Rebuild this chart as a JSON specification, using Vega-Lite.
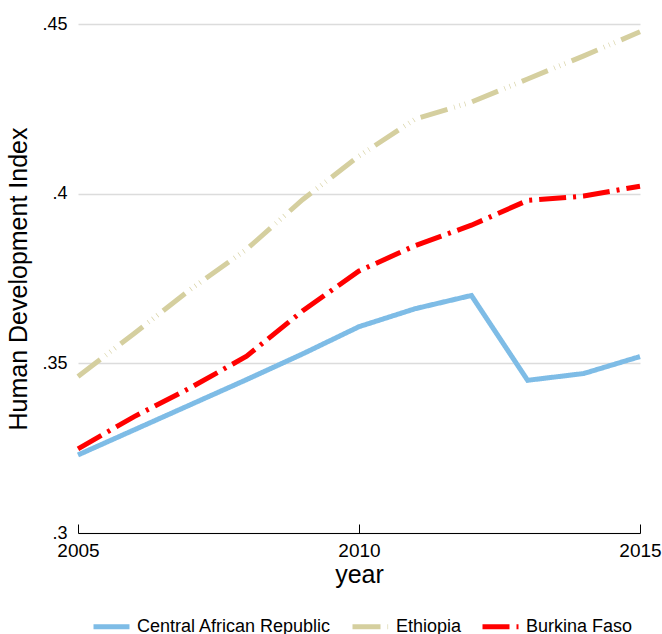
{
  "$schema": "https://vega.github.io/schema/vega-lite/v6.json",
  "autosize": {"type": "none"},
  "width": 562,
  "height": 509,
  "padding": {"left": 78, "top": 24, "right": 22, "bottom": 101},
  "background": "white",
  "config": {
    "view": {"stroke": null},
    "font": "Liberation Sans"
  },
  "data": {
    "values": [
      {"year": 2005, "country": "Central African Republic", "hdi": 0.323},
      {"year": 2006, "country": "Central African Republic", "hdi": 0.3304},
      {"year": 2007, "country": "Central African Republic", "hdi": 0.3378},
      {"year": 2008, "country": "Central African Republic", "hdi": 0.3452},
      {"year": 2009, "country": "Central African Republic", "hdi": 0.3528},
      {"year": 2010, "country": "Central African Republic", "hdi": 0.3608},
      {"year": 2011, "country": "Central African Republic", "hdi": 0.3661},
      {"year": 2012, "country": "Central African Republic", "hdi": 0.370},
      {"year": 2013, "country": "Central African Republic", "hdi": 0.345},
      {"year": 2014, "country": "Central African Republic", "hdi": 0.347},
      {"year": 2015, "country": "Central African Republic", "hdi": 0.352},
      {"year": 2005, "country": "Ethiopia", "hdi": 0.3461},
      {"year": 2006, "country": "Ethiopia", "hdi": 0.3588},
      {"year": 2007, "country": "Ethiopia", "hdi": 0.3718},
      {"year": 2008, "country": "Ethiopia", "hdi": 0.3836},
      {"year": 2009, "country": "Ethiopia", "hdi": 0.3983},
      {"year": 2010, "country": "Ethiopia", "hdi": 0.4111},
      {"year": 2011, "country": "Ethiopia", "hdi": 0.422},
      {"year": 2012, "country": "Ethiopia", "hdi": 0.427},
      {"year": 2013, "country": "Ethiopia", "hdi": 0.4338},
      {"year": 2014, "country": "Ethiopia", "hdi": 0.4406},
      {"year": 2015, "country": "Ethiopia", "hdi": 0.4477},
      {"year": 2005, "country": "Burkina Faso", "hdi": 0.3248},
      {"year": 2006, "country": "Burkina Faso", "hdi": 0.3343},
      {"year": 2007, "country": "Burkina Faso", "hdi": 0.3428},
      {"year": 2008, "country": "Burkina Faso", "hdi": 0.3521},
      {"year": 2009, "country": "Burkina Faso", "hdi": 0.3655},
      {"year": 2010, "country": "Burkina Faso", "hdi": 0.3772},
      {"year": 2011, "country": "Burkina Faso", "hdi": 0.3847},
      {"year": 2012, "country": "Burkina Faso", "hdi": 0.3907},
      {"year": 2013, "country": "Burkina Faso", "hdi": 0.398},
      {"year": 2014, "country": "Burkina Faso", "hdi": 0.3993},
      {"year": 2015, "country": "Burkina Faso", "hdi": 0.4022}
    ]
  },
  "mark": {"type": "line", "strokeWidth": 5, "strokeCap": "butt", "strokeJoin": "miter"},
  "encoding": {
    "x": {
      "field": "year",
      "type": "quantitative",
      "scale": {"domain": [2005, 2015], "nice": false, "zero": false},
      "axis": {
        "title": "year",
        "values": [2005, 2010, 2015],
        "format": "d",
        "grid": false,
        "labelFlush": false,
        "labelOverlap": false,
        "domainColor": "black",
        "domainWidth": 1,
        "tickColor": "black",
        "tickSize": -9,
        "tickWidth": 1,
        "labelFontSize": 19,
        "labelColor": "black",
        "labelPadding": 17,
        "titleFontSize": 25,
        "titleFontWeight": "normal",
        "titleColor": "black",
        "titlePadding": 2
      }
    },
    "y": {
      "field": "hdi",
      "type": "quantitative",
      "scale": {"domain": [0.3, 0.45], "nice": false, "zero": false},
      "axis": {
        "title": "Human Development Index",
        "values": [0.3, 0.35, 0.4, 0.45],
        "labelExpr": "replace(format(datum.value, '.2~f'), /^0/, '')",
        "labelFlush": false,
        "domain": false,
        "ticks": false,
        "grid": true,
        "gridColor": "#dcdcdc",
        "gridWidth": 1.5,
        "labelFontSize": 18,
        "labelColor": "black",
        "labelPadding": 11,
        "titleFontSize": 25,
        "titleFontWeight": "normal",
        "titleColor": "black",
        "titlePadding": 10
      }
    },
    "color": {
      "field": "country",
      "type": "nominal",
      "scale": {
        "domain": ["Central African Republic", "Ethiopia", "Burkina Faso"],
        "range": ["#7EBCE6", "#D5CF9F", "#FF0000"]
      },
      "legend": {
        "title": null,
        "orient": "none",
        "direction": "horizontal",
        "legendX": 13,
        "legendY": 582,
        "symbolType": "stroke",
        "symbolStrokeWidth": 5,
        "symbolSize": 1296,
        "labelFontSize": 18,
        "labelLimit": 400,
        "labelColor": "black",
        "labelOffset": 5,
        "columnSpacing": 12
      }
    },
    "strokeDash": {
      "field": "country",
      "type": "nominal",
      "scale": {
        "domain": ["Central African Republic", "Ethiopia", "Burkina Faso"],
        "range": [[1, 0], [28, 7, 0.6, 5, 0.6, 5, 0.6, 7], [27, 7, 3, 7]]
      },
      "legend": null
    }
  }
}
